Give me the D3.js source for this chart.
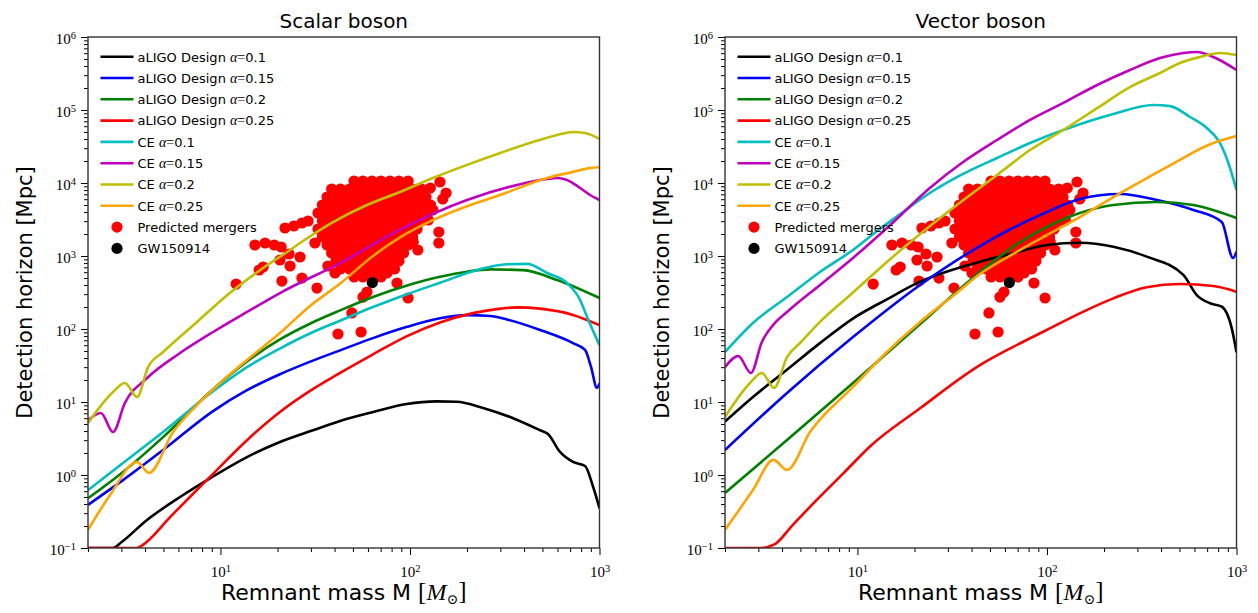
<!DOCTYPE html>
<html>
<head>
<meta charset="utf-8">
<script src="https://cdn.jsdelivr.net/npm/d3@7"></script>
<style>
  body { margin: 0; background: #fff; }
  text { font-family: "DejaVu Sans", sans-serif; fill: #000; }
  .tick-label { font-family: "Liberation Serif", "DejaVu Serif", serif; font-size: 15px; }
  .serif { font-family: "Liberation Serif", "DejaVu Serif", serif; }
</style>
</head>
<body>
<svg id="chart" width="1258" height="613"></svg>
<script>
// remnant mass [Msun], detection horizon [Mpc] -- scalar boson
var scalarAligo01 = [[2,0.1],[2.7,0.1],[3.0,0.12],[4.08,0.24],[6.12,0.5],[8.8,0.9],[13.8,1.76],[20.6,2.83],[30.8,4.1],[42.8,5.5],[64,7.3],[96,9.4],[138,10.2],[176,10.1],[243,8.3],[350,6.0],[486,4.1],[535,3.64],[619,2.07],[725,1.51],[839,1.33],[925,0.69],[1000,0.35]];
var scalarAligo015 = [[2,0.39],[3.06,0.85],[4.98,2.2],[9.14,7.5],[13.8,14.5],[20.6,24],[30,36],[42.8,51],[63.8,75],[96.5,107],[144,140],[200,155],[265,151],[325,135],[486,97],[725,64],[839,51.6],[900,31],[970,15.6],[1000,18]];
var scalarAligo02 = [[2,0.48],[3.06,1.1],[4.98,3.3],[9.14,15],[13.8,36],[20.6,72],[30,120],[42.8,180],[63.8,275],[96.5,395],[144,520],[200,610],[265,655],[395,640],[597,469],[1000,266]];
var scalarAligo025 = [[2,0.1],[3.63,0.1],[3.85,0.108],[5.5,0.275],[7,0.52],[8.8,0.94],[13.8,3.0],[20.6,7.3],[29.7,14.2],[42.8,25],[63.8,45],[96.5,80],[144,123],[215,165],[300,190],[367,198],[486,190],[725,156],[1000,113]];
var scalarCe01 = [[2,0.62],[3.06,1.46],[4.98,3.88],[9.14,14],[13.8,30],[20.6,54],[30,88],[42.8,130],[63.8,200],[96.5,300],[144,430],[234,660],[325,770],[415,780],[529,585],[674,427],[790,250],[860,146],[1000,60]];
var scalarCe015 = [[2,5.66],[2.34,7.06],[2.71,3.88],[3.13,9.7],[4.1,21.3],[6.12,46.9],[9.14,91],[13.8,171],[20.6,311],[42.8,800],[88.6,2300],[200,5850],[367,9400],[529,11350],[597,11700],[674,11000],[790,8550],[891,6850],[1000,5850]];
var scalarCe02 = [[2,5.15],[2.71,13.7],[3.13,18.2],[3.63,11.7],[4.15,30.1],[4.98,48.4],[7.52,125],[11.2,311],[16.8,685],[23.3,1208],[26.3,1507],[39.3,2920],[59.3,5000],[88.6,7530],[132,11700],[200,17700],[299,25800],[446,36500],[597,45500],[725,50000],[839,48400],[1000,40100]];
var scalarCe025 = [[2,0.177],[2.61,0.53],[3.63,1.51],[4.2,1.07],[5.62,3.88],[7.52,9.1],[9.95,18.2],[13.8,37.6],[20.6,88],[29.7,207],[42.8,420],[63.8,1000],[88.6,1800],[132,3100],[200,4800],[299,6850],[529,11700],[725,14200],[891,16000],[1000,16400]];

// vector boson
var vectorAligo01 = [[2,5.4],[2.82,11.8],[4.23,27.4],[6.34,64],[9.5,140],[14.3,255],[21.4,445],[44.3,836],[66.4,1090],[99.7,1416],[149,1520],[224,1340],[336,980],[524,550],[617,292],[725,225],[836,202],[944,102],[1000,48]];
var vectorAligo015 = [[2,2.2],[4.25,13.3],[9.47,77.6],[21.4,401],[44.3,1370],[66,2420],[100,4010],[149,6040],[243,7070],[381,5850],[592,4270],[836,2920],[959,940],[1000,1150]];
var vectorAligo02 = [[2,0.566],[4.25,3.02],[9.47,18.2],[21.4,117],[44.3,604],[66,1330],[100,2500],[149,3880],[224,5000],[381,5500],[592,5000],[1000,3320]];
var vectorAligo025 = [[2,0.1],[3.06,0.1],[3.67,0.113],[4.5,0.2],[6.34,0.505],[8.5,1.08],[11.6,2.44],[21.4,8.2],[44.3,32],[66.4,57],[99.7,97],[149,164],[224,263],[336,373],[503,413],[755,388],[1000,324]];
var vectorCe01 = [[2,48.4],[2.81,121],[4.25,274],[6.34,604],[9.47,1208],[13.1,2340],[17.4,4010],[24.1,7300],[36.1,13300],[54.5,22000],[81.4,35300],[122,53200],[224,88100],[364,117000],[446,113000],[569,80200],[697,56600],[818,35300],[906,18800],[1000,8020]];
var vectorCe015 = [[2,30.1],[2.35,42.7],[2.74,25],[3.13,66.4],[3.67,121],[4.25,171],[6.34,401],[9.47,940],[14.9,2660],[24.1,8550],[36.1,19400],[54.5,38800],[81.4,73000],[122,125000],[184,220000],[274,353000],[395,515000],[525,604000],[619,623000],[755,532000],[1000,353000]];
var vectorCe02 = [[2,6.24],[2.71,18.2],[3.13,25],[3.63,15.6],[4.25,41.3],[4.98,64.3],[6.34,125],[9.47,316],[14.3,828],[21.4,2000],[31.9,4550],[54.5,12880],[81.4,28300],[122,53200],[184,106000],[274,206000],[395,321000],[503,440000],[642,532000],[818,604000],[1000,566000]];
var vectorCe025 = [[2,0.177],[2.81,0.623],[3.6,1.61],[4.25,1.17],[5.62,3.88],[9.47,16.1],[14.3,48.4],[21.4,125],[31.9,283],[44.3,566],[66,1060],[100,1940],[149,3420],[224,6430],[337,11700],[503,20700],[569,24900],[755,35300],[1000,44000]];

var detectorNames = ["aLIGO Design", "aLIGO Design", "aLIGO Design", "aLIGO Design", "CE", "CE", "CE", "CE"];
var alphaValues = ["0.1", "0.15", "0.2", "0.25", "0.1", "0.15", "0.2", "0.25"];
var curveColors = ["#000000", "#0000ff", "#008000", "#ff0000", "#00bfbf", "#bf00bf", "#bfbf00", "#ffa500"];

// predicted mergers: dense core given as rows [distance, [masses]], plus scattered ones [mass, distance]
var mergerCoreRows = [
  [10650, [50.7, 56.5, 63.1, 70.3, 78.5, 87.5, 97.7]],
  [8275, [38.6, 43.0, 48.0, 53.5, 59.7, 66.6, 74.3, 82.9, 92.5, 103.2, 115.1]],
  [6430, [36.5, 40.7, 45.4, 50.7, 56.5, 63.1, 70.3, 78.5, 87.5, 97.7, 109, 121.5]],
  [4995, [34.5, 38.6, 43.0, 48.0, 53.5, 59.7, 66.6, 74.3, 82.9, 92.5, 103.2, 115.1, 128.4]],
  [3882, [32.7, 36.5, 40.7, 45.4, 50.7, 56.5, 63.1, 70.3, 78.5, 87.5, 97.7, 109, 121.5]],
  [3016, [34.5, 38.6, 43.0, 48.0, 53.5, 59.7, 66.6, 74.3, 82.9, 92.5, 103.2, 115.1]],
  [2344, [32.7, 36.5, 40.7, 45.4, 50.7, 56.5, 63.1, 70.3, 78.5, 87.5, 97.7, 109]],
  [1821, [34.5, 38.6, 43.0, 48.0, 53.5, 59.7, 66.6, 74.3, 82.9, 92.5, 103.2]],
  [1415, [36.5, 40.7, 45.4, 50.7, 56.5, 63.1, 70.3, 78.5, 87.5, 97.7]],
  [1099, [38.6, 43.0, 48.0, 53.5, 59.7, 66.6, 74.3, 82.9, 92.5]],
  [854, [40.7, 45.4, 50.7, 56.5, 63.1, 70.3, 78.5, 87.5]],
  [664, [43.0, 48.0, 53.5, 59.7, 66.6, 74.3, 82.9]],
  [516, [50.7, 56.5, 63.1, 70.3]]
];
var mergerScattered = [[12.1,413],[15.2,1415],[17.2,1507],[19.2,1415],[20.9,1328],[16.0,643],[16.8,707],[20.6,881],[23.3,730],[26.3,969],[23.0,1065],[21.9,2419],[24.4,2576],[26.9,2832],[29.0,3016],[21.1,454],[26.9,499],[32.3,364],[31.5,1507],[36.9,730],[40.2,585],[49.4,166],[41.7,85.4],[55.2,91],[56.5,274],[59.3,321],[75.6,585],[85.4,427],[97.7,266],[110,1208],[104,1555],[142,2132],[142,1507],[128,8540],[144,10320],[155,7295],[149,6040],[132,4267],[125,3113]];
var gw150914 = [63.3, 433];

var xTicksMajor = [10, 100, 1000];
var yTicksMajor = [0.1, 1, 10, 100, 1000, 1e4, 1e5, 1e6];

var panels = [
  {title: "Scalar boson", left: 88, curves: [scalarAligo01, scalarAligo015, scalarAligo02, scalarAligo025, scalarCe01, scalarCe015, scalarCe02, scalarCe025]},
  {title: "Vector boson", left: 725, curves: [vectorAligo01, vectorAligo015, vectorAligo02, vectorAligo025, vectorCe01, vectorCe015, vectorCe02, vectorCe025]}
];

var mergers = [];
mergerCoreRows.forEach(function(row) {
  row[1].forEach(function(m) { mergers.push([m, row[0]]); });
});
mergerScattered.forEach(function(p) { mergers.push(p); });

var svg = d3.select("#chart"),
    marginTop = 37,
    width = 511.5,
    height = 511;

var x = d3.scaleLog().domain([2, 1000]).range([0, width]);
var y = d3.scaleLog().domain([0.1, 1e6]).range([height, 0]);

var minorX = [];
[1, 10, 100].forEach(function(p) {
  for (var k = 2; k <= 9; k++) if (k * p >= 2 && k * p < 1000) minorX.push(k * p);
});
var minorY = [];
[0.1, 1, 10, 100, 1000, 1e4, 1e5].forEach(function(p) {
  for (var k = 2; k <= 9; k++) minorY.push(k * p);
});

function powerLabel(sel) {
  sel.each(function(d) {
    var e = Math.round(Math.log10(d));
    var t = d3.select(this).text(null).attr("class", "tick-label").attr("fill", "#000");
    t.append("tspan").text("10");
    t.append("tspan").attr("dy", "-0.5em").attr("font-size", "10.5px").text(e < 0 ? "\u2212" + (-e) : String(e));
  });
}

var line = d3.line()
    .x(function(d) { return x(d[0]); })
    .y(function(d) { return y(d[1]); })
    .curve(d3.curveMonotoneX);

panels.forEach(function(panel, pi) {
  var g = svg.append("g").attr("transform", "translate(" + panel.left + "," + marginTop + ")");

  svg.append("clipPath").attr("id", "clip" + pi)
    .append("rect").attr("width", width).attr("height", height);

  // axes
  var xMajor = g.append("g").attr("transform", "translate(0," + height + ")")
      .call(d3.axisBottom(x).tickValues(xTicksMajor).tickSize(7).tickPadding(6).tickSizeOuter(0));
  xMajor.selectAll(".tick text").call(powerLabel).attr("dy", "1.05em");
  g.append("g").attr("transform", "translate(0," + height + ")")
      .call(d3.axisBottom(x).tickValues(minorX).tickSize(4).tickFormat("").tickSizeOuter(0));

  var yMajor = g.append("g")
      .call(d3.axisLeft(y).tickValues(yTicksMajor).tickSize(7).tickPadding(5).tickSizeOuter(0));
  yMajor.selectAll(".tick text").call(powerLabel).attr("dy", "0.45em");
  g.append("g")
      .call(d3.axisLeft(y).tickValues(minorY).tickSize(4).tickFormat("").tickSizeOuter(0));

  g.selectAll(".domain").remove();
  g.selectAll(".tick line").attr("stroke", "#000").attr("stroke-width", 1);

  var plot = g.append("g").attr("clip-path", "url(#clip" + pi + ")");

  plot.append("g").selectAll("circle")
    .data(mergers)
    .enter().append("circle")
      .attr("cx", function(d) { return x(d[0]); })
      .attr("cy", function(d) { return y(d[1]); })
      .attr("r", 5.6)
      .attr("fill", "#ff0000");

  plot.append("g").selectAll("path")
    .data(panel.curves)
    .enter().append("path")
      .attr("d", line)
      .attr("fill", "none")
      .attr("stroke", function(d, i) { return curveColors[i]; })
      .attr("stroke-width", 2.6)
      .attr("stroke-linejoin", "round");

  plot.append("circle")
    .attr("cx", x(gw150914[0]))
    .attr("cy", y(gw150914[1]))
    .attr("r", 5.6)
    .attr("fill", "#000");

  g.append("rect")
    .attr("width", width).attr("height", height)
    .attr("fill", "none").attr("stroke", "#333").attr("stroke-width", 1.4);

  // legend
  var legend = g.append("g").attr("transform", "translate(12.5,19.7)");
  var rowH = 21.3;
  detectorNames.forEach(function(name, i) {
    var row = legend.append("g").attr("transform", "translate(0," + (i * rowH) + ")");
    row.append("line").attr("x1", 0).attr("x2", 33).attr("stroke", curveColors[i]).attr("stroke-width", 2.6);
    var t = row.append("text").attr("x", 37).attr("y", 4.8).attr("font-size", "13px");
    t.append("tspan").text(name + " ");
    t.append("tspan").attr("class", "serif").attr("font-style", "italic").attr("font-size", "14px").text("\u03b1");
    t.append("tspan").attr("class", "serif").attr("font-size", "14px").text("=");
    t.append("tspan").text(alphaValues[i]);
  });
  var markerRows = [["Predicted mergers", "#ff0000"], ["GW150914", "#000"]];
  markerRows.forEach(function(m, j) {
    var row = legend.append("g").attr("transform", "translate(0," + ((8 + j) * rowH) + ")");
    row.append("circle").attr("cx", 16.5).attr("r", 5.6).attr("fill", m[1]);
    row.append("text").attr("x", 37).attr("y", 4.8).attr("font-size", "13px").text(m[0]);
  });

  // titles and axis labels
  g.append("text")
    .attr("x", width / 2).attr("y", -9)
    .attr("text-anchor", "middle").attr("font-size", "20px")
    .text(panel.title);

  g.append("text")
    .attr("transform", "translate(-56," + (height / 2) + ") rotate(-90)")
    .attr("text-anchor", "middle").attr("font-size", "21px")
    .text("Detection horizon [Mpc]");

  var xl = g.append("text")
    .attr("x", width / 2).attr("y", height + 52)
    .attr("text-anchor", "middle").attr("font-size", "22px");
  xl.append("tspan").text("Remnant mass M ");
  xl.append("tspan").attr("class", "serif").attr("font-size", "25px").text("[");
  xl.append("tspan").attr("class", "serif").attr("font-style", "italic").attr("font-size", "24px").text("M");
  xl.append("tspan").attr("class", "serif").attr("font-size", "14px").attr("dy", "0.3em").text("\u2299");
  xl.append("tspan").attr("class", "serif").attr("font-size", "25px").attr("dy", "-0.2em").text("]");
});
</script>
</body>
</html>
